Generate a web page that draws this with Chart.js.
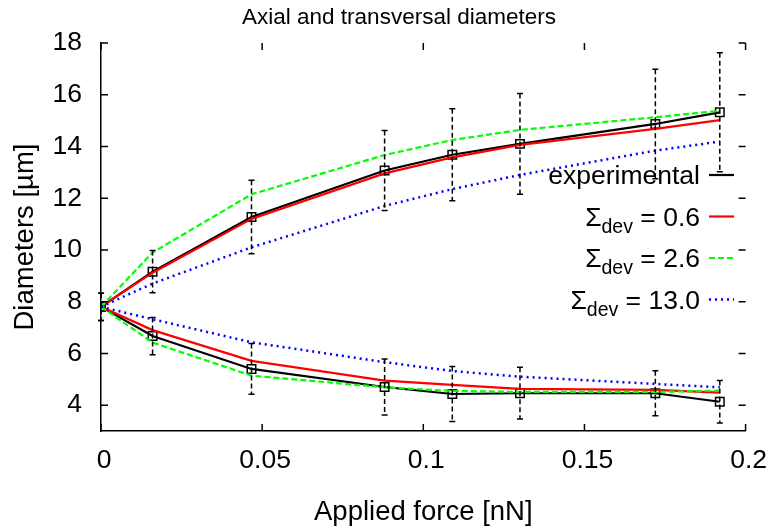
<!DOCTYPE html>
<html>
<head>
<meta charset="utf-8">
<script src="https://cdn.jsdelivr.net/npm/chart.js@4.4.1/dist/chart.umd.min.js"></script>
<style>
  html, body { margin: 0; padding: 0; background: #fff; }
  #wrap { width: 778px; height: 528px; }
</style>
</head>
<body>
<div id="wrap"><canvas id="c" width="778" height="528"></canvas></div>
<script>
// ---- data ----
const force = [0, 0.016, 0.0467, 0.088, 0.109, 0.130, 0.172, 0.192];

const expUpper    = [7.80, 9.16, 11.27, 13.07, 13.68, 14.10, 14.87, 15.32];
const expUpperErr = [0.53, 0.82, 1.42, 1.55, 1.78, 1.95, 2.12, 2.30];
const expLower    = [7.80, 6.67, 5.40, 4.70, 4.43, 4.46, 4.46, 4.13];
const expLowerErr = [0.53, 0.72, 0.98, 1.08, 1.06, 1.00, 0.87, 0.82];

const red06Upper = [7.80, 9.12, 11.20, 12.96, 13.58, 14.06, 14.68, 15.02];
const red06Lower = [7.80, 6.90, 5.71, 4.95, 4.78, 4.63, 4.59, 4.48];
const green26Upper = [7.80, 9.90, 12.15, 13.67, 14.25, 14.64, 15.13, 15.38];
const green26Lower = [7.80, 6.42, 5.14, 4.69, 4.55, 4.51, 4.51, 4.56];
const blue130Upper = [7.80, 8.70, 10.10, 11.70, 12.35, 12.90, 13.84, 14.19];
const blue130Lower = [7.80, 7.32, 6.43, 5.66, 5.32, 5.10, 4.82, 4.69];

const xTicks = [0, 0.05, 0.1, 0.15, 0.2];
const xTickLabels = ['0', '0.05', '0.1', '0.15', '0.2'];
const yTicks = [4, 6, 8, 10, 12, 14, 16, 18];
const yTickLabels = ['4', '6', '8', '10', '12', '14', '16', '18'];

const legendLabels = ['experimental', '0.6', '2.6', '13.0'];
const titleText = 'Axial and transversal diameters';
const xTitle = 'Applied force [nN]';
const yTitle = 'Diameters [\u00b5m]';

// ---- build ----
const pts = (ys) => force.map((x, i) => ({ x: x, y: ys[i] }));
const FONT = '"Liberation Sans", Arial, Helvetica, sans-serif';

function lineDs(ys, color, dash, width) {
  return { data: pts(ys), borderColor: color, borderWidth: width, borderDash: dash,
           pointRadius: 0, fill: false, tension: 0 };
}
function expDs(ys) {
  return { data: pts(ys), borderColor: '#000', borderWidth: 2.2, borderDash: [],
           pointStyle: 'rect', pointRadius: 6, pointBorderWidth: 1.5,
           pointBackgroundColor: 'rgba(0,0,0,0)', pointBorderColor: '#000', fill: false, tension: 0 };
}

const datasets = [
  lineDs(blue130Upper, '#0000ff', [2, 4], 2.5),
  lineDs(blue130Lower, '#0000ff', [2, 4], 2.5),
  lineDs(green26Upper, '#00ff00', [6, 3], 2.2),
  lineDs(green26Lower, '#00ff00', [6, 3], 2.2),
  lineDs(red06Upper, '#ff0000', [], 2.2),
  lineDs(red06Lower, '#ff0000', [], 2.2),
  expDs(expUpper),
  expDs(expLower)
];

const errorBars = {
  id: 'errorBars',
  afterDatasetsDraw(chart) {
    const { ctx, scales: { x, y } } = chart;
    ctx.save();
    ctx.strokeStyle = '#000';
    ctx.lineWidth = 1.5;
    const sets = [[expUpper, expUpperErr], [expLower, expLowerErr]];
    sets.forEach(([vals, errs]) => {
      vals.forEach((v, i) => {
        const px = x.getPixelForValue(force[i]);
        const top = y.getPixelForValue(v + errs[i]);
        const bot = y.getPixelForValue(v - errs[i]);
        ctx.setLineDash([5, 3]);
        ctx.beginPath(); ctx.moveTo(px, top); ctx.lineTo(px, bot); ctx.stroke();
        ctx.setLineDash([]);
        ctx.beginPath();
        ctx.moveTo(px - 3, top); ctx.lineTo(px + 3, top);
        ctx.moveTo(px - 3, bot); ctx.lineTo(px + 3, bot);
        ctx.stroke();
      });
    });
    ctx.restore();
  }
};

const mirrorTicks = {
  id: 'mirrorTicks',
  afterDraw(chart) {
    const { ctx, chartArea: a, scales: { x, y } } = chart;
    ctx.save();
    ctx.strokeStyle = '#000';
    ctx.lineWidth = 1.5;
    ctx.beginPath();
    xTicks.forEach(v => {
      const px = x.getPixelForValue(v);
      ctx.moveTo(px, a.bottom); ctx.lineTo(px, a.bottom - 7);
      ctx.moveTo(px, a.top); ctx.lineTo(px, a.top + 7);
    });
    yTicks.forEach(v => {
      const py = y.getPixelForValue(v);
      ctx.moveTo(a.left, py); ctx.lineTo(a.left + 7, py);
      ctx.moveTo(a.right, py); ctx.lineTo(a.right - 7, py);
    });
    ctx.stroke();
    ctx.restore();
  }
};

const texts = {
  id: 'texts',
  afterDraw(chart) {
    const { ctx, chartArea: a } = chart;
    ctx.save();
    ctx.fillStyle = '#000';
    // title
    ctx.font = '22.5px ' + FONT;
    ctx.textAlign = 'center';
    ctx.textBaseline = 'middle';
    ctx.fillText(titleText, 399, 18);
    // axis titles
    ctx.font = '27.5px ' + FONT;
    ctx.fillText(xTitle, (a.left + a.right) / 2, 512);
    ctx.save();
    ctx.translate(25, (a.top + a.bottom) / 2);
    ctx.rotate(-Math.PI / 2);
    ctx.fillText(yTitle, 0, 0);
    ctx.restore();
    // legend
    const rightX = 700, sx0 = 709, sx1 = 734;
    const rows = [175, 216.5, 258, 299.5];
    const styles = [['#000', [], 2.2], ['#ff0000', [], 2.2], ['#00ff00', [6, 3], 2.2], ['#0000ff', [2, 4], 2.5]];
    ctx.textAlign = 'left';
    ctx.textBaseline = 'alphabetic';
    rows.forEach((ry, i) => {
      const base = ry + 9;
      if (i === 0) {
        ctx.font = '26.5px ' + FONT;
        const w = ctx.measureText(legendLabels[0]).width;
        ctx.fillText(legendLabels[0], rightX - w, base);
      } else {
        ctx.font = '26.5px ' + FONT;
        const sig = '\u03a3';
        const rest = ' = ' + legendLabels[i];
        const wSig = ctx.measureText(sig).width;
        const wRest = ctx.measureText(rest).width;
        ctx.font = '19.5px ' + FONT;
        const wSub = ctx.measureText('dev').width;
        let x0 = rightX - wSig - wSub - wRest;
        ctx.font = '26.5px ' + FONT;
        ctx.fillText(sig, x0, base);
        ctx.font = '19.5px ' + FONT;
        ctx.fillText('dev', x0 + wSig, base + 7);
        ctx.font = '26.5px ' + FONT;
        ctx.fillText(rest, x0 + wSig + wSub, base);
      }
      const [c, d, lw] = styles[i];
      ctx.strokeStyle = c; ctx.lineWidth = lw; ctx.setLineDash(d);
      ctx.beginPath(); ctx.moveTo(sx0, ry); ctx.lineTo(sx1, ry); ctx.stroke();
      ctx.setLineDash([]);
    });
    ctx.restore();
  }
};

new Chart(document.getElementById('c'), {
  type: 'line',
  data: { datasets: datasets },
  options: {
    responsive: false,
    animation: false,
    devicePixelRatio: 1,
    layout: { padding: { top: 43, right: 26, left: 0, bottom: 0 } },
    plugins: { legend: { display: false }, title: { display: false }, tooltip: { enabled: false } },
    scales: {
      x: {
        type: 'linear', min: 0, max: 0.2,
        grid: { display: false, drawTicks: false },
        border: { display: true, color: '#000', width: 1.5 },
        afterBuildTicks: (s) => { s.ticks = xTicks.map(v => ({ value: v })); },
        afterFit: (s) => { s.height = 97; },
        ticks: {
          color: '#000', font: { family: FONT, size: 26.5 }, padding: 14, maxRotation: 0, autoSkip: false,
          labelOffset: 3,
          callback: (v, i) => xTickLabels[i]
        }
      },
      y: {
        type: 'linear', min: 3, max: 18,
        grid: { display: false, drawTicks: false },
        border: { display: true, color: '#000', width: 1.5 },
        afterBuildTicks: (s) => { s.ticks = yTicks.map(v => ({ value: v })); },
        afterFit: (s) => { s.width = 101; },
        ticks: {
          color: '#000', font: { family: FONT, size: 26.5 }, padding: 19, autoSkip: false,
          callback: (v, i) => yTickLabels[i]
        }
      }
    }
  },
  plugins: [errorBars, mirrorTicks, texts]
});
</script>
</body>
</html>
